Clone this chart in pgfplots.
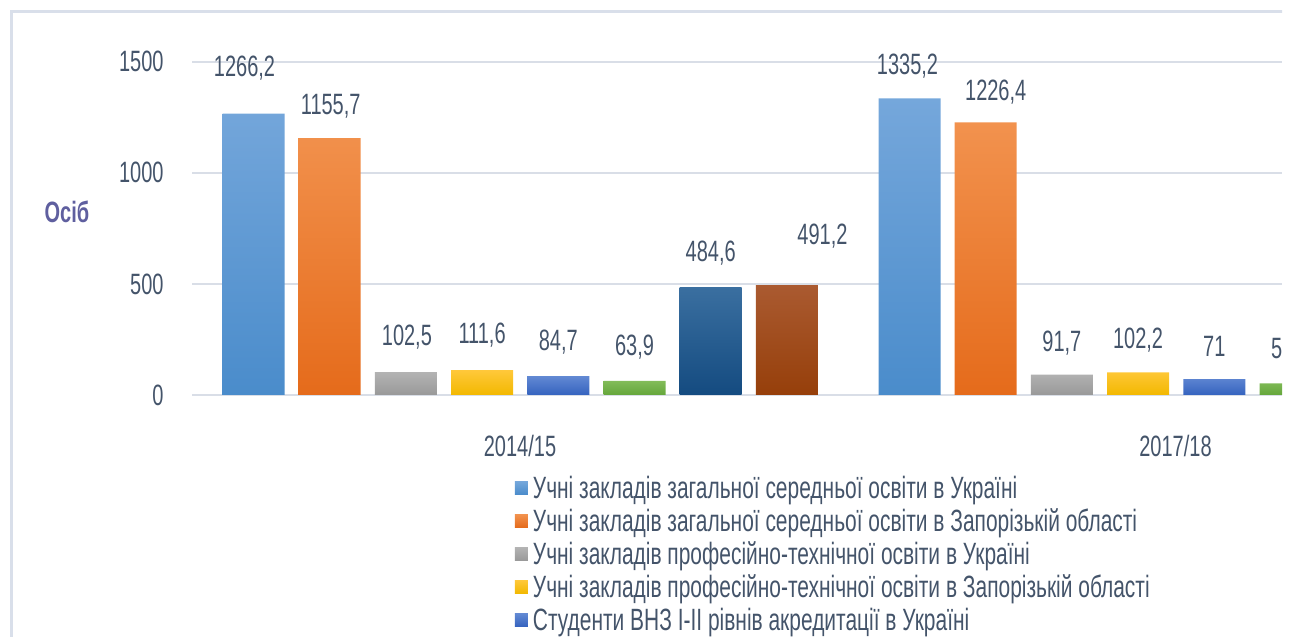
\documentclass[border=0pt]{standalone}
\usepackage{fontspec}
\setmainfont{Liberation Sans}[FakeStretch=0.68]
\usepackage{pgfplots}
\pgfplotsset{compat=1.18}
\usepackage{pgfplotstable}

\definecolor{txt}{HTML}{44546A}
\definecolor{gridc}{HTML}{D9DEE7}
\definecolor{framec}{HTML}{D9DFEA}
\definecolor{ylab}{HTML}{5F5F9F}
\definecolor{aT}{HTML}{75A7DB}\definecolor{aB}{HTML}{4A8CCB}
\definecolor{bT}{HTML}{F2924E}\definecolor{bB}{HTML}{E56B1B}
\definecolor{cT}{HTML}{B3B3B3}\definecolor{cB}{HTML}{999999}
\definecolor{dT}{HTML}{FFC83A}\definecolor{dB}{HTML}{F2B800}
\definecolor{eT}{HTML}{6289D3}\definecolor{eB}{HTML}{3563BF}
\definecolor{fT}{HTML}{82BC59}\definecolor{fB}{HTML}{65A63B}
\definecolor{gT}{HTML}{3A6FA0}\definecolor{gB}{HTML}{144B80}
\definecolor{hT}{HTML}{AA5A30}\definecolor{hB}{HTML}{963F0A}

\pgfplotstableread{
x y lab dx dy
253.5 1266.2 1266,2 -9 45.5
909.5 1335.2 1335,2 -2 32
}\sA
\pgfplotstableread{
x y lab dx dy
329.7 1155.7 1155,7 1 31.5
985.7 1226.4 1226,4 10 30
}\sB
\pgfplotstableread{
x y lab dx dy
405.9 102.5 102,5 1 35.5
1061.9 91.7 91,7 0 31.6
}\sC
\pgfplotstableread{
x y lab dx dy
482.1 111.6 111,6 0 35
1138.1 102.2 102,2 0 32
}\sD
\pgfplotstableread{
x y lab dx dy
558.3 84.7 84,7 0 33.7
1214.3 71 71 0 33
}\sE
\pgfplotstableread{
x y lab dx dy
634.5 63.9 63,9 0 34
1290.5 52.3 52,3 0 33.4
}\sF
\pgfplotstableread{
x y lab dx dy
710.7 484.6 484,6 0 34.5
}\sG
\pgfplotstableread{
x y lab dx dy
786.9 491.2 491,2 35.6 50
}\sH

\pgfplotsset{
  barser/.style 2 args={ybar, bar width=62, bar shift=0pt, draw=none,
    top color=#1, bottom color=#2,
    nodes near coords, point meta=explicit symbolic,
    visualization depends on={\thisrow{dx} \as \dx},
    visualization depends on={\thisrow{dy} \as \dy},
    every node near coord/.append style={anchor=center, inner sep=0pt, text=txt,
      xshift=0.5*\dx, yshift=0.5*\dy}},
}

\begin{document}
\begin{tikzpicture}[font=\fontsize{14.7}{17}\selectfont]
\path[use as bounding box] (0,0) rectangle (645.5pt,318.5pt);
\clip (0,0) rectangle (641pt,318.5pt);
\draw[framec, line width=1.3pt] (5.7pt,-20pt) -- (5.7pt,312.8pt) -- (700pt,312.8pt);
\begin{axis}[
  scale only axis, width=545pt, height=166.65pt,
  at={(96pt,121pt)}, anchor=south west,
  xmin=192, xmax=1282, ymin=0, ymax=1500,
  clip=false,
  axis line style={draw=none},
  ymajorgrids, grid style={draw=gridc, line width=0.9pt},
  ytick={0,500,1000,1500}, yticklabels={0,500,1000,1500},
  xtick={520,1175.5}, xticklabels={2014/15,2017/18},
  major tick length=0pt,
  tick label style={text=txt},
  yticklabel style={anchor=east, inner sep=0pt, xshift=-14pt},
  xticklabel style={anchor=north, inner sep=0pt, yshift=-20pt},
  ylabel={\bfseries Осіб},
  every axis y label/.style={at={(axis description cs:-0.1147,0.549)}, anchor=center, text=ylab},
  legend style={draw=none, fill=none, at={(axis description cs:0.2963,-0.246)}, anchor=north west,
    inner sep=0pt, outer sep=0pt, row sep=5.5pt, column sep=2.5pt,
    font=\fontsize{15.4}{17}\selectfont,
    nodes={inner sep=0pt, text height=11pt, text depth=0pt, text=txt}},
  legend cell align=left,
  legend image code/.code={\path[#1] (0pt,-3.25pt) rectangle (6.5pt,3.25pt);},
]
\addplot[barser={aT}{aB}] table[x=x,y=y,meta=lab]{\sA};
\addplot[barser={bT}{bB}] table[x=x,y=y,meta=lab]{\sB};
\addplot[barser={cT}{cB}] table[x=x,y=y,meta=lab]{\sC};
\addplot[barser={dT}{dB}] table[x=x,y=y,meta=lab]{\sD};
\addplot[barser={eT}{eB}] table[x=x,y=y,meta=lab]{\sE};
\addplot[barser={fT}{fB}] table[x=x,y=y,meta=lab]{\sF};
\addplot[barser={gT}{gB}] table[x=x,y=y,meta=lab]{\sG};
\addplot[barser={hT}{hB}] table[x=x,y=y,meta=lab]{\sH};
\legend{Учні закладів загальної середньої освіти в Україні,
Учні закладів загальної середньої освіти в Запорізькій області,
Учні закладів професійно-технічної освіти в Україні,
Учні закладів професійно-технічної освіти в Запорізькій області,
Студенти ВНЗ І-ІІ рівнів акредитації в Україні}
\end{axis}
\end{tikzpicture}
\end{document}
